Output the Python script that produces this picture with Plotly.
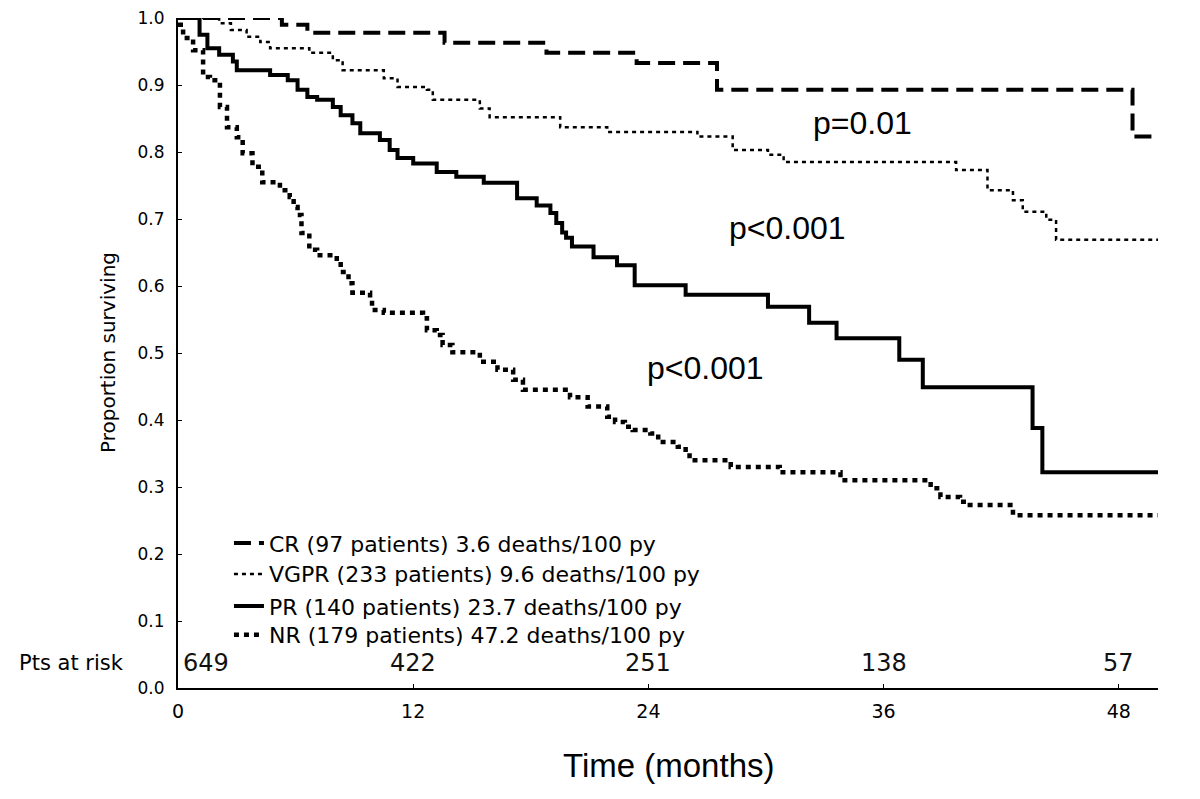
import plotly.graph_objects as go

# ---- data ----
cr_t = [0, 5.3, 6.6, 13.6, 18.8, 23.4, 27.5, 48.7, 50]
cr_s = [1.0, 0.99, 0.978, 0.963, 0.948, 0.933, 0.893, 0.823, 0.823]

vg_t = [0, 2.1, 2.7, 3.5, 4.2, 4.7, 6.7, 7.9, 8.4, 10.5, 11.2, 12.7, 13.0, 15.4, 15.9,
        19.5, 21.9, 26.5, 28.3, 30.1, 30.9, 39.7, 41.3, 42.6, 43.1, 44.3, 44.8, 50]
vg_s = [1.0, 0.992, 0.982, 0.972, 0.964, 0.955, 0.948, 0.937, 0.922, 0.910, 0.897, 0.893, 0.878, 0.865, 0.852,
        0.837, 0.830, 0.823, 0.803, 0.796, 0.785, 0.773, 0.743, 0.728, 0.711, 0.699, 0.669, 0.669]

pr_t = [0, 1.1, 1.5, 2.1, 2.8, 3.0, 4.7, 5.6, 6.1, 6.6, 7.1, 7.9, 8.3, 8.9, 9.3, 10.3, 10.8, 11.2,
        12.0, 13.2, 14.2, 15.6, 17.3, 18.3, 19.0, 19.3, 19.6, 19.8, 20.1, 21.2, 22.4, 23.3, 25.9,
        30.1, 32.2, 33.6, 36.8, 38.0, 43.6, 44.1, 50]
pr_s = [1.0, 0.975, 0.955, 0.945, 0.935, 0.922, 0.915, 0.907, 0.893, 0.882, 0.878, 0.867, 0.855, 0.843,
        0.828, 0.818, 0.803, 0.791, 0.783, 0.770, 0.763, 0.754, 0.731, 0.720, 0.709, 0.694, 0.680,
        0.672, 0.659, 0.643, 0.631, 0.601, 0.587, 0.569, 0.545, 0.522, 0.490, 0.449, 0.388, 0.322, 0.322]

nr_t = [0, 0.26, 0.77, 1.28, 1.63, 2.14, 2.5, 3.0, 3.3, 3.8, 4.3, 5.2, 5.7, 5.9, 6.1, 6.3, 6.7, 7.1,
        8.1, 8.3, 8.7, 8.9, 9.8, 9.9, 10.5, 12.5, 12.7, 13.2, 13.5, 14.0, 15.4, 16.3, 17.1, 17.6,
        20.0, 20.9, 21.9, 22.3, 22.8, 23.2, 24.1, 24.5, 25.5, 25.9, 26.1, 28.2, 30.7, 33.8, 38.4,
        38.9, 39.9, 40.4, 42.6, 50]
nr_s = [0.99, 0.97, 0.952, 0.912, 0.907, 0.867, 0.837, 0.822, 0.798, 0.778, 0.755, 0.743, 0.733, 0.718,
        0.706, 0.679, 0.654, 0.646, 0.636, 0.621, 0.604, 0.590, 0.579, 0.564, 0.560, 0.552, 0.534,
        0.527, 0.512, 0.501, 0.487, 0.475, 0.460, 0.445, 0.434, 0.420, 0.405, 0.397, 0.390, 0.385,
        0.380, 0.367, 0.360, 0.351, 0.340, 0.330, 0.322, 0.310, 0.298, 0.285, 0.278, 0.273, 0.258, 0.258]

legend_names = [
    "CR (97 patients) 3.6 deaths/100 py",
    "VGPR (233 patients) 9.6 deaths/100 py",
    "PR (140 patients) 23.7 deaths/100 py",
    "NR (179 patients) 47.2 deaths/100 py",
]

risk_times = [0, 12, 24, 36, 48]
risk_counts = [649, 422, 251, 138, 57]

p_labels = ["p=0.01", "p<0.001", "p<0.001"]
p_x = [34.9, 31.1, 26.9]
p_y = [0.843, 0.687, 0.478]

x_ticks = [0, 12, 24, 36, 48]

# ---- figure ----
fig = go.Figure()
styles = [
    dict(width=4, dash="17px,8px"),
    dict(width=2.5, dash="4px,4px"),
    dict(width=4, dash="solid"),
    dict(width=4.5, dash="5px,5px"),
]
legend_ids = ["legend", "legend2", "legend3", "legend4"]
legend_rows_y = [0.216, 0.170, 0.122, 0.079]
series = [(cr_t, cr_s), (vg_t, vg_s), (pr_t, pr_s), (nr_t, nr_s)]
for (t, s), name, st, lid in zip(series, legend_names, styles, legend_ids):
    fig.add_trace(go.Scatter(
        x=t, y=s, mode="lines", name=name, line_shape="hv", legend=lid,
        line=dict(color="black", width=st["width"], dash=st["dash"]),
    ))

annotations = []
for lab, x, y in zip(p_labels, p_x, p_y):
    annotations.append(dict(x=x, y=y, xref="x", yref="y", text=lab, showarrow=False,
                            font=dict(family="Liberation Sans, Arial", size=32, color="black")))

for i, (t, c) in enumerate(zip(risk_times, risk_counts)):
    annotations.append(dict(x=t, y=0.037, xref="x", yref="y", text=str(c), showarrow=False,
                            xanchor="left" if i == 0 else "center",
                            xshift=3 if i == 0 else 0,
                            font=dict(family="DejaVu Sans", size=24, color="#111")))
annotations.append(dict(x=0, y=0.037, xref="x", yref="y", text="Pts at risk", showarrow=False,
                        xanchor="right", xshift=-52,
                        font=dict(family="DejaVu Sans", size=21, color="black")))
annotations.append(dict(x=-0.0714, y=0.50, xref="paper", yref="paper", text="Proportion surviving",
                        showarrow=False, textangle=-90, xanchor="center", yanchor="middle",
                        font=dict(family="DejaVu Sans", size=20, color="black")))
annotations.append(dict(x=0.5, y=-0.116, xref="paper", yref="paper", text="Time (months)",
                        showarrow=False, xanchor="center", yanchor="middle",
                        font=dict(family="Liberation Sans, Arial", size=33, color="black")))

legend_common = dict(x=0.052, xanchor="left", yanchor="middle", bgcolor="rgba(0,0,0,0)",
                     borderwidth=0,
                     font=dict(family="DejaVu Sans", size=22, color="black"))
layout_legends = {lid: dict(y=yy, **legend_common) for lid, yy in zip(legend_ids, legend_rows_y)}

# the page adds an 8px body margin, so the figure is 8px smaller than the window
fig.update_layout(
    width=1192, height=791,
    margin=dict(l=170, r=42, t=10, b=111, autoexpand=False),
    paper_bgcolor="white", plot_bgcolor="white",
    showlegend=True,
    annotations=annotations,
    **layout_legends,
)
fig.update_xaxes(range=[0, 50], tickvals=x_ticks, ticktext=[str(v) for v in x_ticks],
                 showline=True, linecolor="black", linewidth=2, showgrid=False, zeroline=False,
                 ticks="inside", ticklen=4, tickcolor="black", ticklabelstandoff=5,
                 ticklabeloverflow="allow", automargin=False,
                 tickfont=dict(family="DejaVu Sans", size=19, color="black"))
fig.update_yaxes(range=[0, 1], dtick=0.1, tick0=0, tickformat=".1f",
                 showline=True, linecolor="black", linewidth=2, showgrid=False, zeroline=False,
                 ticks="inside", ticklen=4, tickcolor="black", ticklabelstandoff=8,
                 ticklabeloverflow="allow", automargin=False,
                 tickfont=dict(family="DejaVu Sans", size=17, color="black"))

fig.write_html("out.html")
